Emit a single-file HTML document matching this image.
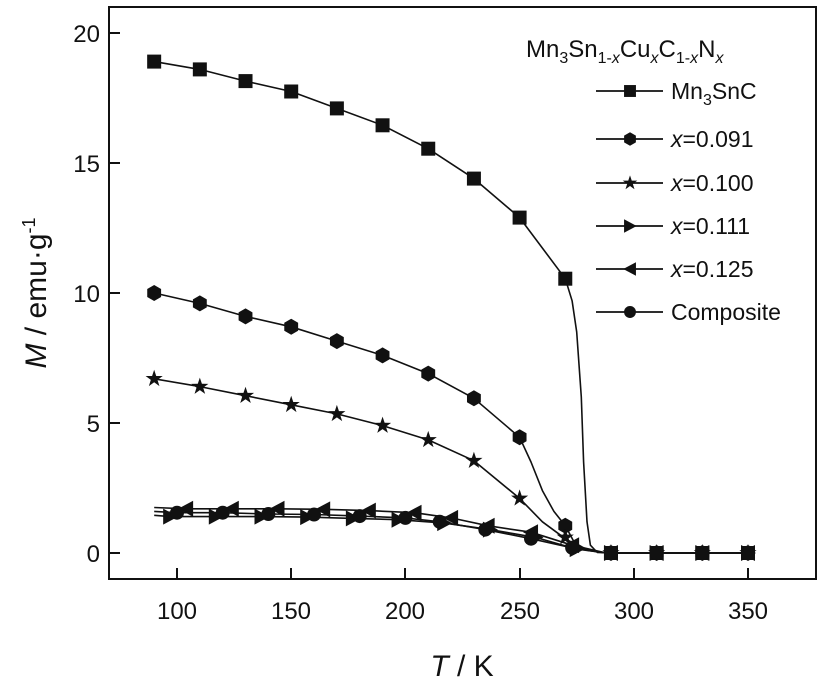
<!DOCTYPE html>
<html><head><meta charset="utf-8"><style>
html,body{margin:0;padding:0;background:#fff;width:827px;height:684px;overflow:hidden}
svg{display:block}
text{font-family:"Liberation Sans",Arial,sans-serif;fill:#111}
</style></head><body>
<svg id="s" width="827" height="684" viewBox="0 0 827 684" xmlns="http://www.w3.org/2000/svg">
<rect x="109" y="7" width="707" height="572" fill="none" stroke="#111" stroke-width="2"/>
<g stroke="#111" stroke-width="2">
<line x1="109" y1="553" x2="120" y2="553"/><line x1="109" y1="423" x2="120" y2="423"/><line x1="109" y1="293" x2="120" y2="293"/><line x1="109" y1="163" x2="120" y2="163"/><line x1="109" y1="33" x2="120" y2="33"/>
<line x1="177" y1="579" x2="177" y2="568"/><line x1="291" y1="579" x2="291" y2="568"/><line x1="405" y1="579" x2="405" y2="568"/><line x1="520" y1="579" x2="520" y2="568"/><line x1="634" y1="579" x2="634" y2="568"/><line x1="748" y1="579" x2="748" y2="568"/>
</g>
<g font-size="24" text-anchor="end">
<text x="100" y="562">0</text><text x="100" y="432">5</text><text x="100" y="302">10</text><text x="100" y="172">15</text><text x="100" y="42">20</text>
</g>
<g font-size="24" text-anchor="middle">
<text x="177" y="619">100</text><text x="291" y="619">150</text><text x="405" y="619">200</text><text x="520" y="619">250</text><text x="634" y="619">300</text><text x="748" y="619">350</text>
</g>
<text x="462" y="676" font-size="30" text-anchor="middle"><tspan font-style="italic">T</tspan> / K</text>
<text transform="translate(46,293) rotate(-90)" font-size="30" text-anchor="middle"><tspan font-style="italic">M</tspan> / emu·g<tspan dy="-11" font-size="18">-1</tspan></text>
<text x="526" y="57" font-size="24">Mn<tspan dy="6" font-size="16">3</tspan><tspan dy="-6">Sn</tspan><tspan dy="6" font-size="16">1-<tspan font-style="italic">x</tspan></tspan><tspan dy="-6">Cu</tspan><tspan dy="6" font-size="16" font-style="italic">x</tspan><tspan dy="-6">C</tspan><tspan dy="6" font-size="16">1-<tspan font-style="italic">x</tspan></tspan><tspan dy="-6">N</tspan><tspan dy="6" font-size="16" font-style="italic">x</tspan></text>
<g font-size="23">
<text x="671" y="99">Mn<tspan dy="6" font-size="16">3</tspan><tspan dy="-6">SnC</tspan></text>
<text x="671" y="147"><tspan font-style="italic">x</tspan>=0.091</text>
<text x="671" y="191"><tspan font-style="italic">x</tspan>=0.100</text>
<text x="671" y="234"><tspan font-style="italic">x</tspan>=0.111</text>
<text x="671" y="277"><tspan font-style="italic">x</tspan>=0.125</text>
<text x="671" y="320">Composite</text>
</g>
<g id="g"></g>
</svg>
<script>
var NS="http://www.w3.org/2000/svg",g=document.getElementById("g");
function X(t){return 177+(t-100)*2.284}function Y(m){return 553-26*m}
function el(n,a){var e=document.createElementNS(NS,n);for(var k in a)e.setAttribute(k,a[k]);g.appendChild(e);return e}
function mk(type,x,y,s){s=s||1;
 if(type=="sq")el("rect",{x:x-7*s,y:y-7*s,width:14*s,height:14*s,fill:"#111"});
 else if(type=="hex"){var p=[];for(var i=0;i<6;i++){var a=Math.PI/3*i+Math.PI/6;p.push((x+8*s*Math.cos(a))+","+(y+8*s*Math.sin(a)))}el("polygon",{points:p.join(" "),fill:"#111"})}
 else if(type=="star"){var p=[];for(var i=0;i<10;i++){var r=i%2?3.5*s:9*s,a=-Math.PI/2+Math.PI/5*i;p.push((x+r*Math.cos(a))+","+(y+r*Math.sin(a)))}el("polygon",{points:p.join(" "),fill:"#111"})}
 else if(type=="rt")el("polygon",{points:(x-7*s)+","+(y-8*s)+" "+(x+8*s)+","+y+" "+(x-7*s)+","+(y+8*s),fill:"#111"});
 else if(type=="lt")el("polygon",{points:(x+7*s)+","+(y-8*s)+" "+(x-8*s)+","+y+" "+(x+7*s)+","+(y+8*s),fill:"#111"});
 else if(type=="ci")el("circle",{cx:x,cy:y,r:7*s,fill:"#111"});
}
function series(line,marks,type){
 var d="";line.forEach(function(p,i){d+=(i?"L":"M")+X(p[0]).toFixed(1)+","+Y(p[1]).toFixed(1)});
 el("path",{d:d,fill:"none",stroke:"#111","stroke-width":1.6,"stroke-linejoin":"round"});
 marks.forEach(function(p){mk(type,X(p[0]),Y(p[1]))});
}
var tail=[[290,0],[310,0],[330,0],[350,0]];
var A=[[90,18.9],[110,18.6],[130,18.15],[150,17.75],[170,17.1],[190,16.45],[210,15.55],[230,14.4],[250,12.9],[270,10.55]];
series(A.concat([[273,9.7],[275,8.5],[277,6],[278,3.5],[279.5,1.2],[281,0.3],[284,0.02],[290,0]]).concat(tail),A.concat(tail),"sq");
var B=[[90,10.0],[110,9.6],[130,9.1],[150,8.7],[170,8.15],[190,7.6],[210,6.9],[230,5.95],[250,4.45]];
series(B.concat([[255,3.5],[260,2.4],[265,1.6],[270,1.05],[274,0.4],[280,0.1],[288,0]]).concat(tail),B.concat([[270,1.05]]).concat(tail),"hex");
var C=[[90,6.7],[110,6.4],[130,6.05],[150,5.7],[170,5.35],[190,4.9],[210,4.35],[230,3.55],[250,2.1]];
series(C.concat([[260,1.2],[270,0.55],[278,0.15],[288,0]]).concat(tail),C.concat([[270,0.6]]).concat(tail),"star");
var D=[[97,1.4],[117,1.4],[137,1.4],[157,1.38],[177,1.33],[197,1.28],[217,1.15],[237,0.9],[257,0.6],[275,0.15]];
series([[90,1.45]].concat(D).concat([[288,0]]).concat(tail),D.concat(tail),"rt");
var E=[[104,1.7],[124,1.7],[144,1.7],[164,1.68],[184,1.63],[204,1.55],[220,1.35],[236,1.05],[255,0.8],[273,0.3]];
series([[90,1.75]].concat(E).concat([[288,0]]).concat(tail),E.concat(tail),"lt");
var F=[[100,1.55],[120,1.55],[140,1.5],[160,1.48],[180,1.42],[200,1.35],[215,1.2],[235,0.9],[255,0.55],[273,0.2]];
series([[90,1.6]].concat(F).concat([[288,0]]).concat(tail),F.concat(tail),"ci");
var rows=[[91,"sq"],[139,"hex"],[183,"star"],[226,"rt"],[269,"lt"],[312,"ci"]];
rows.forEach(function(r){el("line",{x1:596,y1:r[0],x2:663,y2:r[0],stroke:"#111","stroke-width":1.8});mk(r[1],630,r[0],0.85)});
</script>
</body></html>
